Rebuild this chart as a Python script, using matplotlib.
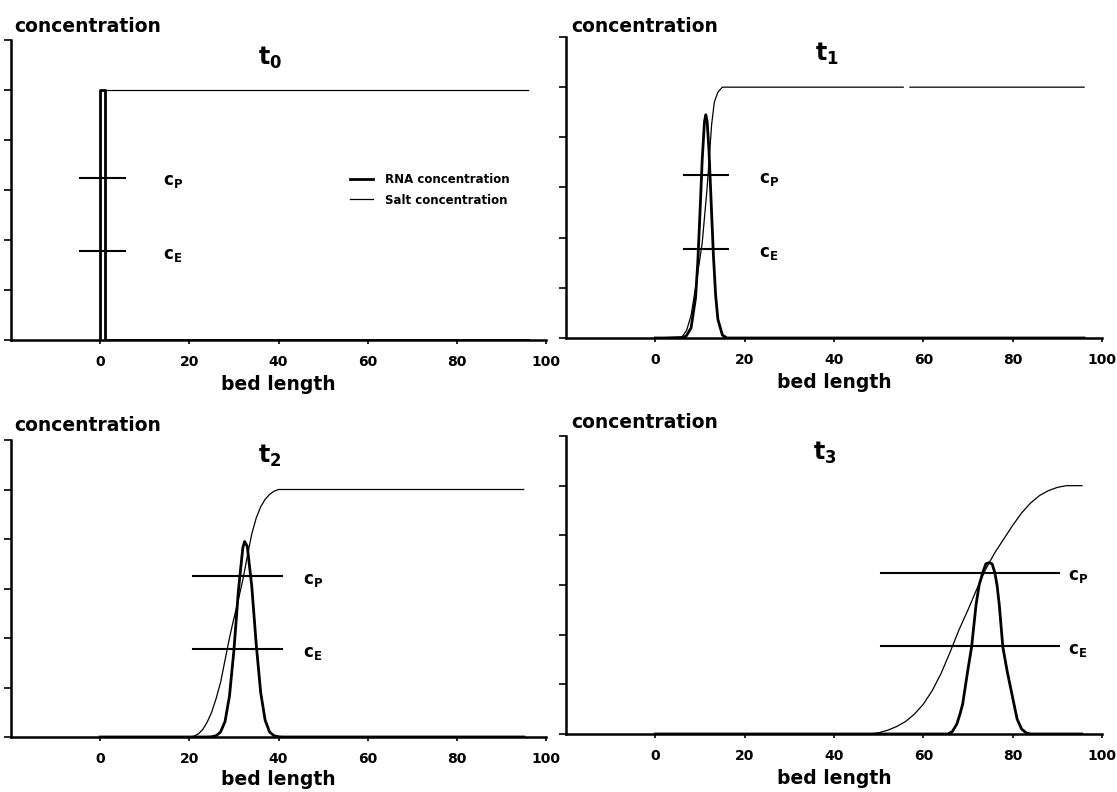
import matplotlib
matplotlib.use("Agg")
import matplotlib.pyplot as plt
import numpy as np

plt.rcParams['font.family'] = ['DejaVu Sans']
plt.rcParams['font.weight'] = 'bold'
plt.rcParams['mathtext.fontset'] = 'dejavusans'

# ---------------- data ----------------
x_ticks = [0, 20, 40, 60, 80, 100]
y_ticks = [0, 0.2, 0.4, 0.6, 0.8, 1.0, 1.2]
panel_names = ['0', '1', '2', '3']

cp_level = 0.65
ce_level = 0.355

# t0
rna_x_t0 = [0, 0, 1.1, 1.1, 96]
rna_y_t0 = [0, 1.0, 1.0, 0, 0]
salt_x_t0 = [0, 0, 96]
salt_y_t0 = [0, 1.0, 1.0]

# t1
rna_x_t1 = [0, 5.5, 6.5, 7, 8, 9, 9.5, 10, 10.5, 11, 11.3, 11.6, 12, 12.5, 13, 13.5, 14, 15, 16, 96]
rna_y_t1 = [0, 0, 0.004, 0.01, 0.04, 0.16, 0.3, 0.5, 0.713, 0.863, 0.89, 0.863, 0.751, 0.54,
            0.33, 0.17, 0.075, 0.012, 0, 0]
salt_x_t1 = [0, 6, 7, 8, 9, 10, 10.5, 11, 11.6, 12, 12.6, 13.2, 14, 15, 55.5, 56.2, 57, 96]
salt_y_t1 = [0, 0.005, 0.03, 0.09, 0.2, 0.32, 0.38, 0.48, 0.6, 0.7, 0.85, 0.94, 0.98, 1.0,
             1.0, np.nan, 1.0, 1.0]

# t2
rna_x_t2 = [0, 24, 25, 26, 27, 28, 29, 30, 31, 32, 32.4, 33, 34, 35, 36, 37, 38, 39, 40, 41, 95]
rna_y_t2 = [0, 0, 0.001, 0.005, 0.02, 0.062, 0.165, 0.35, 0.59, 0.765, 0.79, 0.77,
            0.61, 0.375, 0.18, 0.068, 0.02, 0.005, 0.001, 0, 0]
salt_x_t2 = [0, 20, 21, 22, 23, 24, 25, 26, 27, 28, 29, 30, 31, 32, 33, 34, 35, 36, 37, 38,
             39, 40, 95]
salt_y_t2 = [0, 0, 0.003, 0.012, 0.03, 0.06, 0.1, 0.155, 0.22, 0.31, 0.40, 0.48, 0.555,
             0.635, 0.73, 0.82, 0.885, 0.93, 0.96, 0.98, 0.993, 1.0, 1.0]

# t3
rna_x_t3 = [0, 65.5, 66.5, 67.5, 68.2, 68.8, 69.9, 70.8, 71.8, 72.5, 73.3, 74, 74.7, 75.4,
            76, 76.5, 77, 77.8, 78.8, 80.3, 81, 82, 83, 84, 95.5]
rna_y_t3 = [0, 0, 0.01, 0.04, 0.08, 0.12, 0.25, 0.35, 0.52, 0.6, 0.65, 0.685, 0.69, 0.685,
            0.65, 0.6, 0.52, 0.35, 0.25, 0.12, 0.06, 0.02, 0.005, 0, 0]
salt_x_t3 = [0, 48, 50, 52, 54, 56, 58, 60, 62, 64, 66, 68, 70, 72, 74, 76, 78, 80, 82, 84,
             86, 88, 90, 92, 95.5]
salt_y_t3 = [0, 0, 0.005, 0.015, 0.03, 0.05, 0.08, 0.12, 0.175, 0.245, 0.33, 0.42, 0.5,
             0.585, 0.665, 0.73, 0.785, 0.84, 0.89, 0.93, 0.96, 0.98, 0.993, 1.0, 1.0]

marker_start = [-4.5, 6.5, 20.8, 50.5]
marker_end = [5.5, 16.2, 40.8, 90.3]
marker_label_x = [14, 23.2, 45.6, 92.5]

rna_x = [rna_x_t0, rna_x_t1, rna_x_t2, rna_x_t3]
rna_y = [rna_y_t0, rna_y_t1, rna_y_t2, rna_y_t3]
salt_x = [salt_x_t0, salt_x_t1, salt_x_t2, salt_x_t3]
salt_y = [salt_y_t0, salt_y_t1, salt_y_t2, salt_y_t3]

# ---------------- layout ----------------
W, H = 1117, 792
fig = plt.figure(figsize=(W / 100, H / 100), dpi=100)

# (left px, top px, right px, bottom px)
boxes = [(11, 40, 546, 340), (566, 37, 1102, 338), (11, 440, 546, 737), (566, 436, 1102, 734)]
title_pos = [(0.485, 0.94), (0.487, 0.945), (0.484, 0.946), (0.483, 0.943)]
conc_pos = [(14, 27), (571, 27), (14, 425), (571, 422)]
xlabel_pad = [4, 4, 3, 4]

for i, (l, t, r, b) in enumerate(boxes):
    ax = fig.add_axes([l / W, 1 - b / H, (r - l) / W, (b - t) / H])
    ax.set_xlim(-20, 100)
    ax.set_ylim(0, 1.2)
    for s in ['top', 'right']:
        ax.spines[s].set_visible(False)
    for s in ['left', 'bottom']:
        ax.spines[s].set_linewidth(1.8)
    ax.set_xticks(x_ticks)
    ax.set_yticks(y_ticks)
    ax.tick_params(axis='x', direction='out', length=3, width=1.2, labelsize=10, pad=8)
    ax.tick_params(axis='y', direction='out', length=5, width=1.2, labelleft=False)
    for lab in ax.get_xticklabels():
        lab.set_fontweight('bold')
    ax.set_xlabel('bed length', fontsize=13.5, fontweight='bold', labelpad=xlabel_pad[i])

    l_salt, = ax.plot(salt_x[i], salt_y[i], color='black', lw=0.9, solid_joinstyle='round')
    l_rna, = ax.plot(rna_x[i], rna_y[i], color='black', lw=2.0, solid_joinstyle='round')

    ax.plot([marker_start[i], marker_end[i]], [cp_level, cp_level], color='black', lw=1.5)
    ax.plot([marker_start[i], marker_end[i]], [ce_level, ce_level], color='black', lw=1.5)
    ax.text(marker_label_x[i], cp_level - 0.015, r'$\mathbf{c}_\mathbf{P}$', fontsize=12,
            ha='left', va='center')
    ax.text(marker_label_x[i], ce_level - 0.015, r'$\mathbf{c}_\mathbf{E}$', fontsize=12,
            ha='left', va='center')

    ax.text(title_pos[i][0], title_pos[i][1], r'$\mathbf{t}_\mathbf{%s}$' % panel_names[i],
            transform=ax.transAxes, ha='center', va='center', fontsize=17)

    fig.text(conc_pos[i][0] / W, 1 - conc_pos[i][1] / H, 'concentration', fontsize=13.5,
             fontweight='bold', ha='left', va='center')

    if i == 0:
        ax.legend([l_rna, l_salt], ['RNA concentration', 'Salt concentration'],
                  loc='center left', bbox_to_anchor=(0.633, 0.5), frameon=False,
                  prop={'size': 8.5, 'weight': 'bold'}, handlelength=2.0,
                  handletextpad=1.0, borderpad=0, borderaxespad=0, labelspacing=0.6)

fig.savefig('out.png', dpi=100)
